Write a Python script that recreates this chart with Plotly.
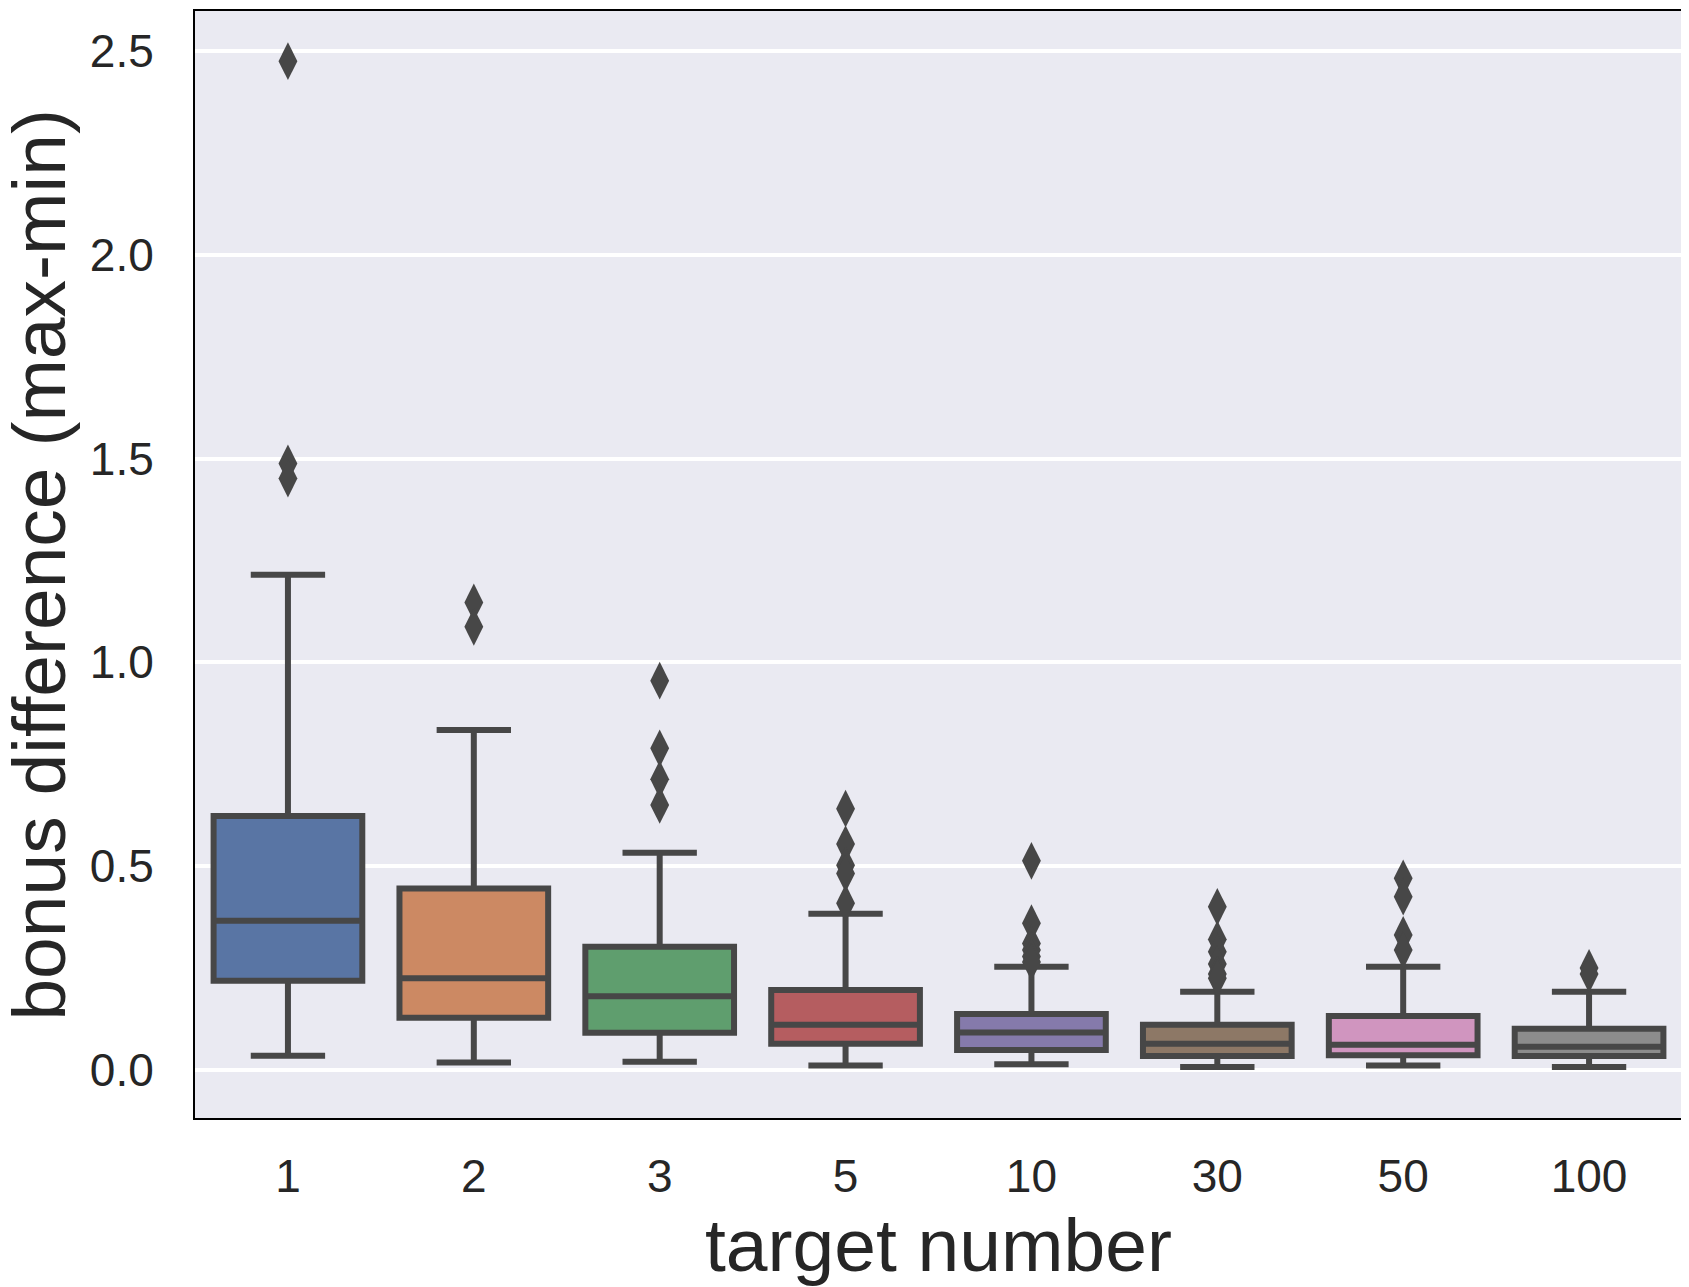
import plotly.graph_objects as go

categories = ["1", "2", "3", "5", "10", "30", "50", "100"]
lower_whisker = [0.035, 0.018, 0.020, 0.011, 0.014, 0.007, 0.011, 0.007]
q1 = [0.219, 0.128, 0.091, 0.064, 0.049, 0.034, 0.036, 0.034]
medians = [0.366, 0.225, 0.181, 0.111, 0.092, 0.064, 0.062, 0.057]
q3 = [0.623, 0.445, 0.302, 0.196, 0.137, 0.111, 0.132, 0.101]
upper_whisker = [1.215, 0.834, 0.533, 0.383, 0.253, 0.192, 0.253, 0.192]
outliers = [
    [2.475, 1.488, 1.451],
    [1.147, 1.087],
    [0.955, 0.789, 0.713, 0.650],
    [0.641, 0.554, 0.502, 0.482, 0.409],
    [0.513, 0.360, 0.310, 0.294, 0.278, 0.265],
    [0.400, 0.320, 0.290, 0.260, 0.235, 0.225],
    [0.470, 0.425, 0.331, 0.294],
    [0.250, 0.235],
]
colors = ["#5975a4", "#cc8963", "#5f9e6e", "#b55d60",
          "#857aab", "#8d7866", "#d095bf", "#8c8c8c"]
y_ticks = [0.0, 0.5, 1.0, 1.5, 2.0, 2.5]
x_title = "target number"
y_title = "bonus difference (max-min)"

line_color = "#474747"
text_color = "#262626"
font_family = "Liberation Sans, Arial, sans-serif"

fig = go.Figure()
for i, cat in enumerate(categories):
    fig.add_trace(go.Box(
        x=[cat], q1=[q1[i]], median=[medians[i]], q3=[q3[i]],
        lowerfence=[lower_whisker[i]], upperfence=[upper_whisker[i]],
        boxpoints=False, width=0.8, whiskerwidth=0.5,
        fillcolor=colors[i], line=dict(color=line_color, width=6),
        showlegend=False, hoverinfo="skip",
    ))
    fig.add_trace(go.Scatter(
        x=[cat] * len(outliers[i]), y=outliers[i], mode="markers",
        marker=dict(symbol="diamond-tall", size=27, color=line_color,
                    line=dict(width=0)),
        showlegend=False, hoverinfo="skip",
    ))

# the page body adds an 8px offset, so the figure is 8px smaller and margins compensate
fig.update_layout(
    width=1681, height=1279,
    margin=dict(l=187, r=7, t=3, b=169, autoexpand=False),
    paper_bgcolor="white", plot_bgcolor="#eaeaf2",
    boxmode="overlay",
    font=dict(family=font_family, color=text_color),
    annotations=[
        dict(text=x_title, xref="paper", yref="paper", x=0.5, y=-0.115,
             xanchor="center", yanchor="middle", showarrow=False,
             font=dict(size=75, color=text_color)),
        dict(text=y_title, xref="paper", yref="paper", x=-0.1055, y=0.5,
             xanchor="center", yanchor="middle", showarrow=False, textangle=-90,
             font=dict(size=75, color=text_color)),
    ],
)
fig.update_xaxes(
    type="category", categoryorder="array", categoryarray=categories,
    range=[-0.5, 7.5], showgrid=False, zeroline=False, automargin=False,
    showline=True, mirror=True, linecolor="black", linewidth=2,
    ticks="outside", ticklen=17, tickcolor="rgba(0,0,0,0)",
    tickfont=dict(size=46, color=text_color),
)
fig.update_yaxes(
    range=[-0.118, 2.598], tickvals=y_ticks, tickformat=".1f",
    showgrid=True, gridcolor="white", gridwidth=3.5, zeroline=False, automargin=False,
    showline=True, mirror=True, linecolor="black", linewidth=2,
    ticks="outside", ticklen=30, tickcolor="rgba(0,0,0,0)",
    tickfont=dict(size=46, color=text_color),
)

fig.write_html("out.html")
